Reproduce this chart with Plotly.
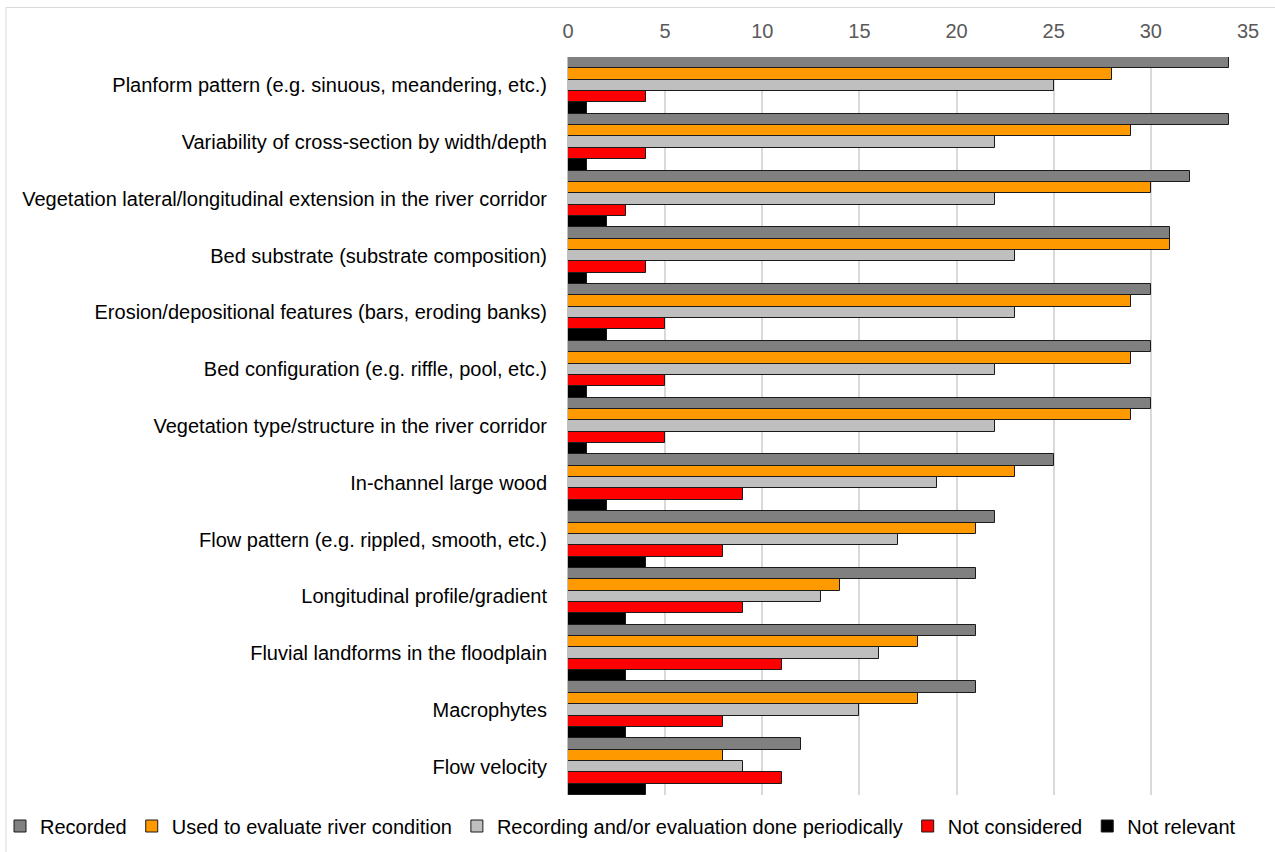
import plotly.graph_objects as go

categories = [
    "Planform pattern (e.g. sinuous, meandering, etc.)",
    "Variability of cross-section by width/depth",
    "Vegetation lateral/longitudinal extension in the river corridor",
    "Bed substrate (substrate composition)",
    "Erosion/depositional features (bars, eroding banks)",
    "Bed configuration (e.g. riffle, pool, etc.)",
    "Vegetation type/structure in the river corridor",
    "In-channel large wood",
    "Flow pattern (e.g. rippled, smooth, etc.)",
    "Longitudinal profile/gradient",
    "Fluvial landforms in the floodplain",
    "Macrophytes",
    "Flow velocity",
]

recorded = [34, 34, 32, 31, 30, 30, 30, 25, 22, 21, 21, 21, 12]
used_to_evaluate = [28, 29, 30, 31, 29, 29, 29, 23, 21, 14, 18, 18, 8]
periodically = [25, 22, 22, 23, 23, 22, 22, 19, 17, 13, 16, 15, 9]
not_considered = [4, 4, 3, 4, 5, 5, 5, 9, 8, 9, 11, 8, 11]
not_relevant = [1, 1, 2, 1, 2, 1, 1, 2, 4, 3, 3, 3, 4]

series_names = [
    "Recorded",
    "Used to evaluate river condition",
    "Recording and/or evaluation done periodically",
    "Not considered",
    "Not relevant",
]
series_values = [recorded, used_to_evaluate, periodically, not_considered, not_relevant]
series_colors = ["#808080", "#FF9900", "#BFBFBF", "#FF0000", "#000000"]

FONT = "Liberation Sans"
W, H = 1275, 852
L, R, T, B = 568, 27, 57, 57

fig = go.Figure()
for name, vals, col in zip(series_names, series_values, series_colors):
    fig.add_trace(go.Bar(
        y=categories, x=vals, name=name, orientation="h",
        marker=dict(color=col, line=dict(color="#1a1a1a", width=1)),
    ))

# outer chart frame (left and top edges) in paper coordinates
pw, ph = W - L - R, H - T - B
def px_x(p):
    return (p - L) / pw
def px_y(p):
    return (H - B - p) / ph

frame = dict(type="line", xref="paper", yref="paper",
             line=dict(color="#D9D9D9", width=1), layer="below")
fig.add_shape(**frame, x0=px_x(6), x1=px_x(W + 5), y0=px_y(7.5), y1=px_y(7.5))
fig.add_shape(**frame, x0=px_x(6), x1=px_x(6), y0=px_y(7.5), y1=px_y(H + 5))

fig.update_layout(
    width=W, height=H,
    margin=dict(l=L, r=R, t=T, b=B, autoexpand=False),
    barmode="group", bargap=0, bargroupgap=0,
    plot_bgcolor="white", paper_bgcolor="white",
    font=dict(family=FONT, size=20, color="#000000"),
    xaxis=dict(
        side="top", range=[0, 35], dtick=5, tick0=0,
        showgrid=True, gridcolor="#D9D9D9", gridwidth=2,
        zeroline=False, showline=False,
        tickfont=dict(family=FONT, size=20, color="#595959"),
        ticks="", ticklabelstandoff=14,
    ),
    yaxis=dict(
        autorange="reversed", showgrid=False, zeroline=False,
        showline=True, linecolor="#BFBFBF", linewidth=1,
        ticks="", ticklabelstandoff=16,
        tickfont=dict(family=FONT, size=20, color="#000000"),
    ),
    legend=dict(
        orientation="h", traceorder="normal",
        x=px_x(0), xanchor="left", y=px_y(826), yanchor="middle",
        font=dict(family=FONT, size=20, color="#000000"),
        itemwidth=30, bgcolor="rgba(0,0,0,0)",
    ),
)

fig.write_html("out.html")
